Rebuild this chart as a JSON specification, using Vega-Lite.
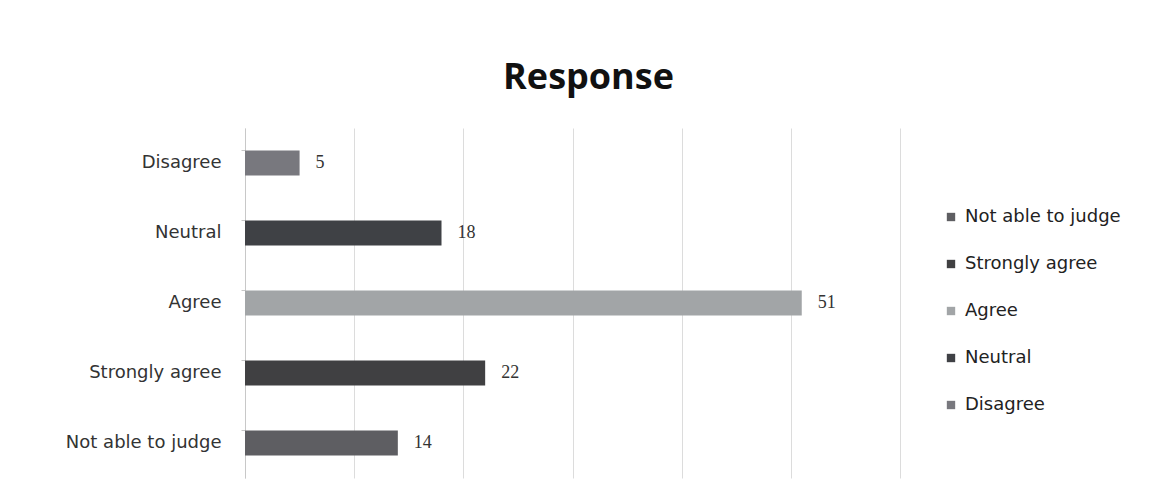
{
  "$schema": "https://vega.github.io/schema/vega-lite/v6.json",
  "autosize": {"type": "none"},
  "width": 655,
  "height": 350,
  "padding": {"left": 245, "top": 128, "right": 259, "bottom": 26},
  "background": "white",
  "title": {"text": "Response", "font": "Open Sans", "fontSize": 36, "fontWeight": "bold", "color": "#111111", "anchor": "middle", "dx": 16, "offset": 31},
  "data": {"values": [
    {"response": "Disagree", "count": 5},
    {"response": "Neutral", "count": 18},
    {"response": "Agree", "count": 51},
    {"response": "Strongly agree", "count": 22},
    {"response": "Not able to judge", "count": 14}
  ]},
  "encoding": {
    "y": {"field": "response", "type": "nominal", "sort": ["Disagree", "Neutral", "Agree", "Strongly agree", "Not able to judge"],
      "scale": {"paddingInner": 0.64, "paddingOuter": 0.32},
      "axis": {"title": null, "labelFont": "DejaVu Sans", "labelFontSize": 18, "labelColor": "#333333", "labelPadding": 20, "domainColor": "#c8c8c8", "tickColor": "#c8c8c8", "tickSize": 4, "bandPosition": 0, "grid": false}},
    "x": {"field": "count", "type": "quantitative", "scale": {"domain": [0, 60]},
      "axis": {"title": null, "values": [0, 10, 20, 30, 40, 50, 60], "labels": false, "ticks": false, "domain": false, "grid": true, "gridColor": "#dcdcdc", "gridWidth": 1}}
  },
  "layer": [
    {"mark": {"type": "bar"},
      "encoding": {"color": {"field": "response", "type": "nominal",
        "sort": ["Not able to judge", "Strongly agree", "Agree", "Neutral", "Disagree"],
        "scale": {"domain": ["Not able to judge", "Strongly agree", "Agree", "Neutral", "Disagree"], "range": ["#5e5e62", "#404042", "#a2a5a7", "#3f4145", "#78787e"]},
        "legend": {"title": null, "orient": "none", "legendX": 697, "legendY": 80, "symbolType": "square", "symbolSize": 70, "symbolStrokeWidth": 0, "rowPadding": 29, "labelFont": "DejaVu Sans", "labelFontSize": 18, "labelColor": "#222222", "labelOffset": 5}}}},
    {"mark": {"type": "text", "align": "left", "dx": 16, "font": "Liberation Serif", "fontSize": 18, "color": "#333333"},
      "encoding": {"text": {"field": "count", "type": "quantitative"}}}
  ],
  "config": {"view": {"stroke": null}}
}
